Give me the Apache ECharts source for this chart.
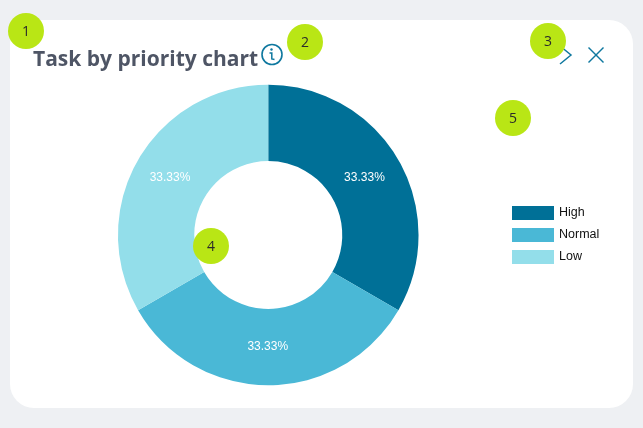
<!DOCTYPE html>
<html>
<head>
<meta charset="utf-8">
<style>html,body{margin:0;padding:0;background:#eef0f3}#c{width:643px;height:428px}</style>
<script src="https://cdn.jsdelivr.net/npm/echarts@6/dist/echarts.min.js"></script>
</head>
<body>
<div id="c"></div>
<script>
var categories = ['High', 'Normal', 'Low'];
var values = [33.33, 33.33, 33.33];
var colors = ['#007097', '#4ab8d6', '#93deea'];
var titleText = 'Task by priority chart';
var markers = [['1',26,31],['2',305,42],['3',548,41],['4',211,246],['5',513,118]];
var labelNudgeX = [-3.5, -0.5, 1.5];
var labelNudgeY = [0.5, -3, 0.5];

var chart = echarts.init(document.getElementById('c'), null, {renderer:'canvas'});
var iconColor = '#0f789f';
var graphics = [
  {type:'rect', z:0, shape:{x:10,y:20,width:623,height:388,r:24}, style:{fill:'#ffffff'}},
  {type:'circle', z:5, shape:{cx:272,cy:54.5,r:10}, style:{fill:'none',stroke:iconColor,lineWidth:1.6}},
  {type:'circle', z:5, shape:{cx:271.5,cy:49.5,r:1.2}, style:{fill:iconColor}},
  {type:'polyline', z:5, shape:{points:[[269.5,53],[271.8,53],[271.8,59],[274.5,59.5]]}, style:{fill:'none',stroke:iconColor,lineWidth:1.5}},
  {type:'polyline', z:5, shape:{points:[[560,46],[571,55],[560,64]]}, style:{fill:'none',stroke:iconColor,lineWidth:1.5}},
  {type:'line', z:5, shape:{x1:588.5,y1:47.5,x2:603.5,y2:62.5}, style:{stroke:iconColor,lineWidth:1.4}},
  {type:'line', z:5, shape:{x1:603.5,y1:47.5,x2:588.5,y2:62.5}, style:{stroke:iconColor,lineWidth:1.4}}
];
markers.forEach(function(m){
  graphics.push({type:'circle', z:20, shape:{cx:m[1],cy:m[2],r:18}, style:{fill:'#b9e615'}});
  graphics.push({type:'text', z:21, x:m[1], y:m[2]+1, style:{text:m[0],font:'14px "Open Sans"',fill:'#2b2b2b',align:'center',verticalAlign:'middle'}});
});

chart.setOption({
  animation:false,
  backgroundColor:'#eef0f3',
  color:colors,
  title:{text:titleText,left:33,top:50,padding:0,textStyle:{fontFamily:'"Open Sans"',fontWeight:'bold',fontSize:21,color:'#4e5565'}},
  legend:{
    orient:'vertical', left:512, top:206,padding:0,
    itemWidth:42, itemHeight:14, itemGap:8,
    icon:'rect',
    data:categories,
    textStyle:{fontFamily:'"Liberation Sans"',fontSize:12.5,color:'#111'},
    selectedMode:false
  },
  graphic:graphics,
  series:[{
    type:'pie',
    center:[268.25,235],
    radius:[74,150.3],
    startAngle:90,
    clockwise:true,
    silent:true,
    label:{show:true,position:'inside',formatter:function(p){return p.value.toFixed(2)+'%';},color:'#fff',fontFamily:'"Liberation Sans"',fontSize:12},
    labelLine:{show:false},
    labelLayout:function(p){return {dx:labelNudgeX[p.dataIndex],dy:labelNudgeY[p.dataIndex]};},
    itemStyle:{borderWidth:0},
    data:categories.map(function(c,i){return {name:c,value:values[i]};})
  }]
});
</script>
</body>
</html>
